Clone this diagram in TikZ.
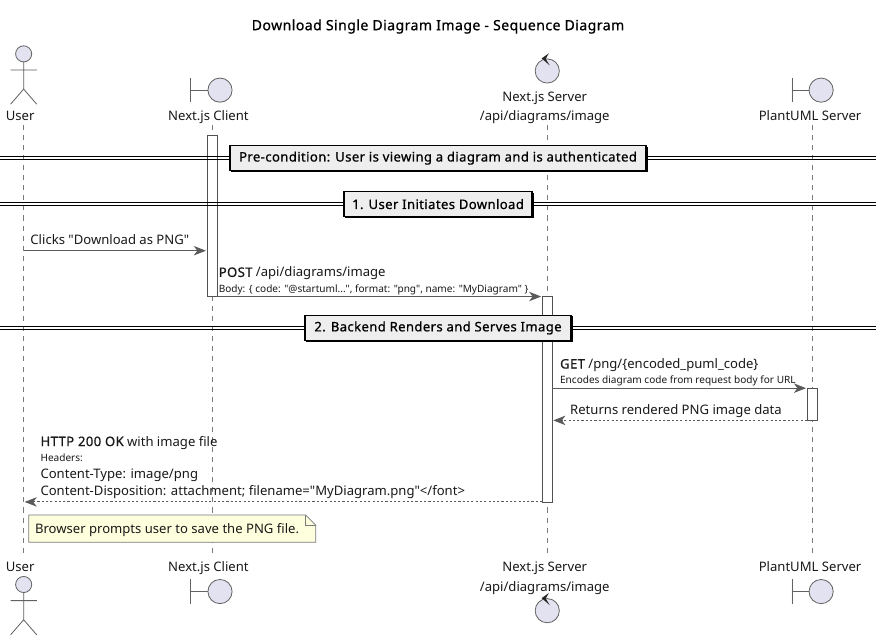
\documentclass[tikz,border=0pt]{standalone}
\usepackage{fontspec}
\setmainfont[Ligatures=TeXOff]{Noto Sans}
\newfontfamily\heavyfont[FakeBold=0.7,LetterSpace=3,Ligatures=TeXOff]{Noto Sans}
\usetikzlibrary{arrows.meta}
\definecolor{partfill}{HTML}{E2E2F0}
\definecolor{lineg}{HTML}{181818}
\definecolor{arrg}{HTML}{5A5A5A}
\definecolor{lifeg}{HTML}{7A7A7A}
\definecolor{divfill}{HTML}{EEEEEE}
\definecolor{notefill}{HTML}{FEFFDD}
\newcommand{\mainsz}{\fontsize{9.75pt}{12pt}\selectfont}
\newcommand{\smallsz}{\fontsize{7.5pt}{9pt}\selectfont}
\newcommand{\hv}[1]{{\heavyfont #1}}
\tikzset{
  x=0.75pt,y=-0.75pt,
  lifeline/.style={draw=lifeg,line width=0.5pt,dash pattern=on 3.75pt off 3.75pt},
  actbar/.style={draw=lineg!75,fill=white,line width=0.6pt},
  msg/.style={draw=arrg,line width=0.75pt},
  ret/.style={msg,dash pattern=on 1.6pt off 1.6pt},
  headtip/.style={-{Stealth[length=9pt,width=7pt,inset=2.6pt,fill=arrg]}},
  txt/.style={inner sep=0pt,anchor=base west,text=black!90,font=\mainsz},
  smalltxt/.style={inner sep=0pt,anchor=base west,text=black!90,font=\smallsz},
  partlabel/.style={inner sep=0pt,anchor=base,text=black!90,font=\mainsz},
  symb/.style={draw=lifeg!80!black,fill=partfill,line width=0.6pt},
  divbox/.style={draw=black,fill=divfill,line width=1.1pt,inner sep=0pt,text=black,font=\mainsz\heavyfont},
  divline/.style={draw=black,line width=0.75pt},
  notebox/.style={draw=lifeg,fill=notefill,line width=0.5pt},
}
\newcommand{\actor}[2]{% x, top y of head
  \draw[symb] (#1,#2+8) circle[radius=8];
  \draw[symb] (#1,#2+16) -- (#1,#2+43) (#1-13,#2+24) -- (#1+13,#2+24)
    (#1,#2+43) -- (#1-13,#2+58) (#1,#2+43) -- (#1+13,#2+58);
}
\newcommand{\boundary}[2]{% circle centre x, centre y
  \draw[symb] (#1-29,#2-12) -- (#1-29,#2+12) (#1-29,#2) -- (#1-12,#2);
  \draw[symb] (#1,#2) circle[radius=12];
}
\newcommand{\control}[2]{% circle centre
  \draw[symb] (#1,#2) circle[radius=12];
  \fill[black!85] (#1+1.5,#2-17.5) -- (#1-5.5,#2-12.5) -- (#1+2.5,#2-5.5) -- (#1-1.5,#2-12) -- cycle;
}
\begin{document}
\begin{tikzpicture}
\useasboundingbox (0,0) rectangle (870,632);
\fill[white] (0,0) rectangle (870,632);

\node[inner sep=0pt,anchor=base,font=\fontsize{10.5pt}{12pt}\selectfont\heavyfont,text=black] (title) at (435,30) {Download Single Diagram Image - Sequence Diagram};

% lifelines
\coordinate (uT) at (23.5,124); \coordinate (uB) at (23.5,549);
\coordinate (cT) at (210.5,124); \coordinate (cB) at (210.5,549);
\coordinate (sT) at (543.5,124); \coordinate (sB) at (543.5,549);
\coordinate (pT) at (806.5,124); \coordinate (pB) at (806.5,549);
\draw[lifeline] (uT) -- (uB);
\draw[lifeline] (cT) -- (cB);
\draw[lifeline] (sT) -- (sB);
\draw[lifeline] (pT) -- (pB);

% activation bars
\draw[actbar] (205.5,134.5) rectangle (215.5,294.5);
\draw[actbar] (538.5,294.5) rectangle (548.5,498.5);
\draw[actbar] (801.5,385.5) rectangle (811.5,417.5);

% participants top
\actor{23.5}{45.5}
\node[partlabel] (uTop) at (20,120) {User};
\boundary{218.5}{89.5}
\node[partlabel] (cTop) at (207,120) {Next.js Client};
\control{543.5}{70.5}
\node[partlabel] (sTop1) at (541,101) {Next.js Server};
\node[partlabel] (sTop2) at (541,120) {/api/diagrams/image};
\boundary{815.5}{89.5}
\node[partlabel] (pTop) at (804.5,120) {PlantUML Server};

% participants bottom
\node[partlabel] (uBot) at (20,568) {User};
\actor{23.5}{572.5}
\node[partlabel] (cBot) at (207,568) {Next.js Client};
\boundary{218.5}{587.5}
\node[partlabel] (sBot1) at (541,568) {Next.js Server};
\node[partlabel] (sBot2) at (541,587) {/api/diagrams/image};
\control{543.5}{606.5}
\node[partlabel] (pBot) at (804.5,568) {PlantUML Server};
\boundary{815.5}{587.5}

% dividers
\foreach \yy/\xa/\xb/\tx/\nm in {157/228.5/641.5/{Pre-condition: User is viewing a diagram and is authenticated}/dA,
  202.7/341.5/528.5/{1. User Initiates Download}/dB,
  325.7/303/567/{2. Backend Renders and Serves Image}/dC}{
  \draw[divline] (0,\yy-1.5) -- (870,\yy-1.5) (0,\yy+1.5) -- (870,\yy+1.5);
  \draw[line width=1.1pt] (\xa+1,\yy+13.5) -- (\xb+1,\yy+13.5) -- (\xb+1,\yy-11.5);
  \pgfmathsetmacro{\wid}{(\xb-\xa)*0.75}
  \node[divbox,minimum height=18.75pt,minimum width=\wid pt] (\nm) at ({(\xa+\xb)/2},\yy) {\tx};
}

% messages
\coordinate (m1a) at (23.5,249); \coordinate (m1b) at (204.5,249);
\draw[msg,headtip] (m1a) -- (m1b);
\node[txt] (m1) at (30,243) {Clicks "Download as PNG"};

\coordinate (m2a) at (215.5,294.5); \coordinate (m2b) at (537.5,294.5);
\draw[msg,headtip] (m2a) -- (m2b);
\node[txt] (m2) at (217,275) {\hv{POST} /api/diagrams/image};
\node[smalltxt] (m2s) at (217,290) {Body: \{ code: "@startuml...", format: "png", name: "MyDiagram" \}};

\coordinate (m3a) at (548.5,385.5); \coordinate (m3b) at (800.5,385.5);
\draw[msg,headtip] (m3a) -- (m3b);
\node[txt] (m3) at (556,366) {\hv{GET} /png/\{encoded\_puml\_code\}};
\node[smalltxt] (m3s) at (556,381) {Encodes diagram code from request body for URL};

\coordinate (m4a) at (801.5,417.5); \coordinate (m4b) at (549.5,417.5);
\draw[ret,headtip] (m4a) -- (m4b);
\node[txt] (m4) at (566,412) {Returns rendered PNG image data};

\coordinate (m5a) at (538.5,498.5); \coordinate (m5b) at (24.5,498.5);
\draw[ret,headtip] (m5a) -- (m5b);
\node[txt] (m5) at (40,443) {\hv{HTTP 200 OK} with image file};
\node[smalltxt] (m5s) at (40,458) {Headers:};
\node[txt] (m5c) at (40,475) {Content-Type: image/png};
\node[txt] (m5d) at (40,492) {Content-Disposition: attachment; filename="MyDiagram.png"</font>};

% note
\draw[notebox] (28.5,511.5) -- (303.5,511.5) -- (313.5,521.5) -- (313.5,538.5) -- (28.5,538.5) -- cycle;
\draw[notebox,fill=none] (303.5,511.5) -- (303.5,521.5) -- (313.5,521.5);
\node[txt] (note) at (34.5,530) {Browser prompts user to save the PNG file.};
\end{tikzpicture}
\end{document}
